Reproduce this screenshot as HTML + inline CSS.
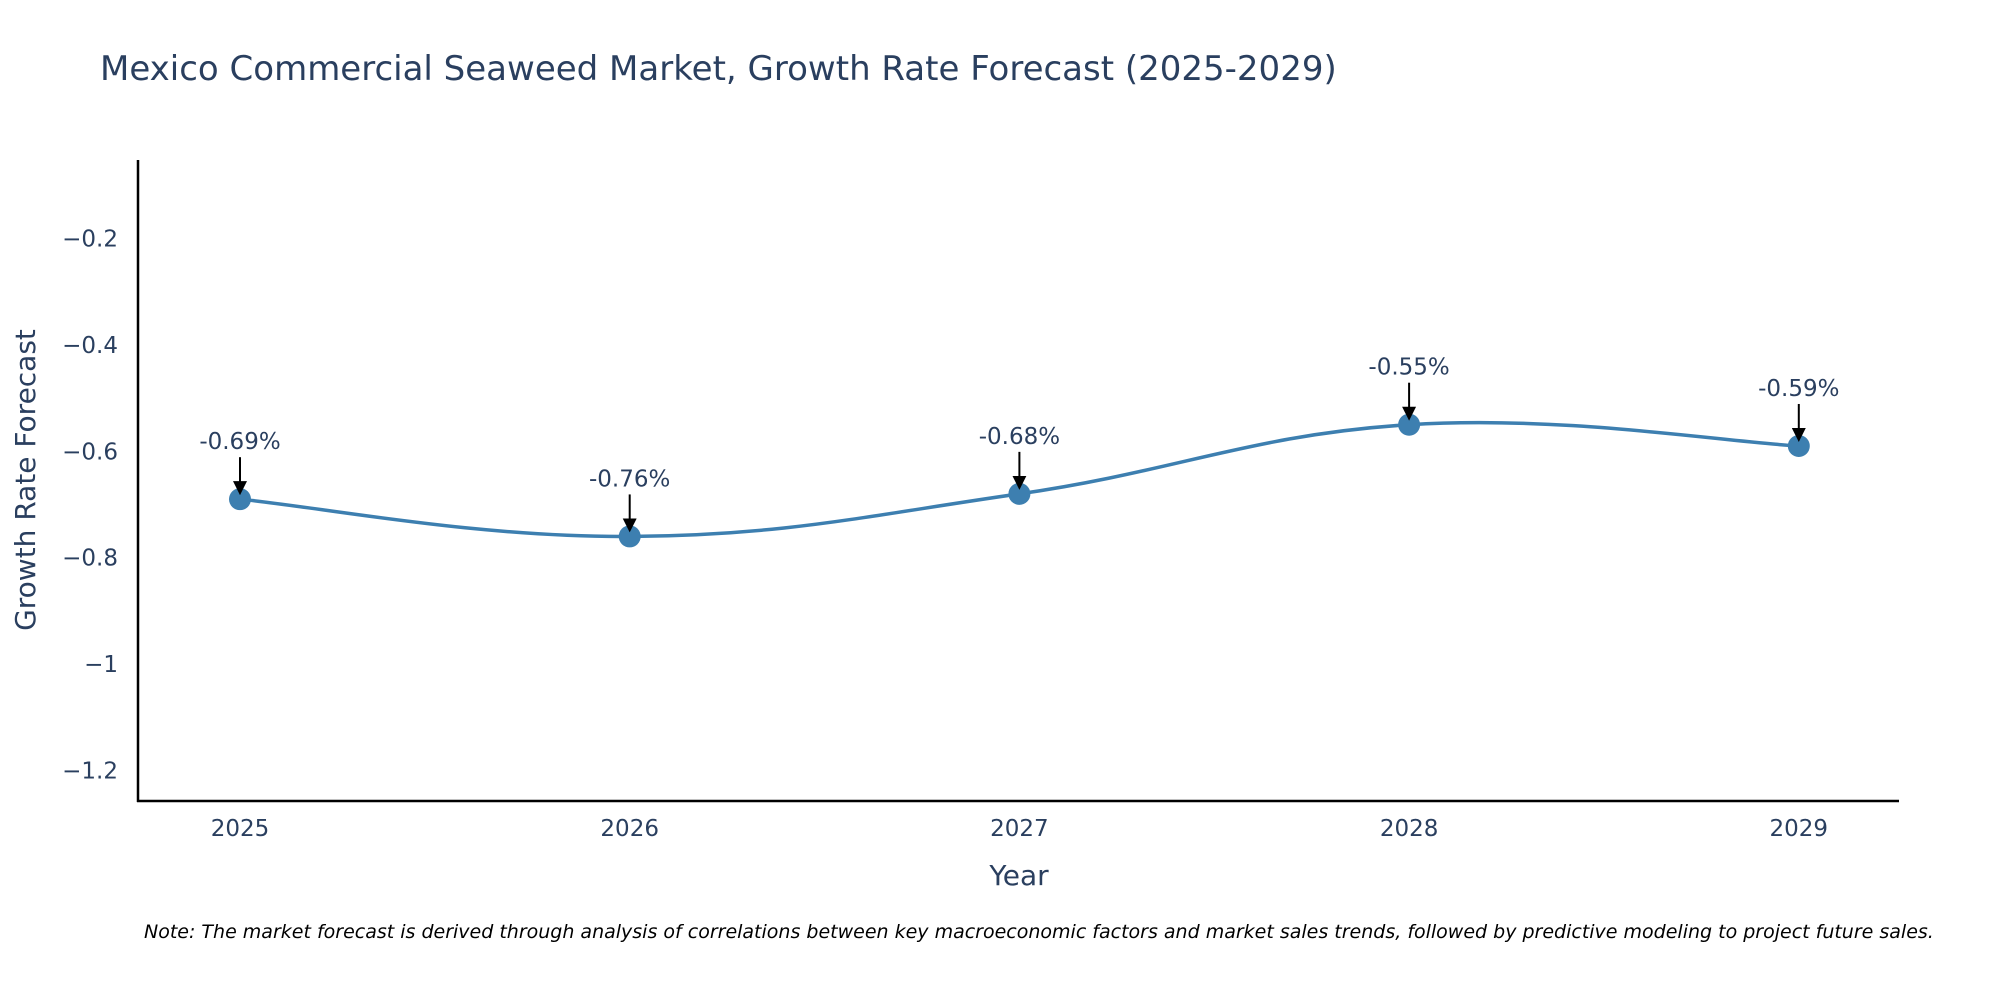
<!DOCTYPE html>
<html><head><meta charset="utf-8">
<style>
body{margin:0;background:#fff;width:2000px;height:1000px;overflow:hidden;font-family:"DejaVu Sans","Liberation Sans",sans-serif;}
svg text{font-family:"DejaVu Sans","Liberation Sans",sans-serif;}
</style></head>
<body>
<svg id="chart" width="2000" height="1000" xmlns="http://www.w3.org/2000/svg">
<text x="100" y="80" font-size="34" fill="#2a3f5f">Mexico Commercial Seaweed Market, Growth Rate Forecast (2025-2029)</text>
<g id="yticks"></g><g id="xticks"></g>
<line x1="138" y1="160" x2="138" y2="802" stroke="#000" stroke-width="2.5"/>
<line x1="137" y1="801" x2="1899" y2="801" stroke="#000" stroke-width="2.5"/>
<text transform="translate(35,480) rotate(-90)" text-anchor="middle" font-size="28" fill="#2a3f5f">Growth Rate Forecast</text>
<text x="1019" y="885" text-anchor="middle" font-size="28" fill="#2a3f5f">Year</text>
<g id="series"></g>
<text x="144" y="938" font-size="19" font-style="italic" fill="#000">Note: The market forecast is derived through analysis of correlations between key macroeconomic factors and market sales trends, followed by predictive modeling to project future sales.</text>
<defs><marker id="ah" markerWidth="14" markerHeight="14" refX="10" refY="7" orient="auto" markerUnits="userSpaceOnUse"><path d="M0,0 L14,7 L0,14 z" fill="#000"/></marker></defs>
</svg>
<script>
const years=[2025,2026,2027,2028,2029];
const values=[-0.69,-0.76,-0.68,-0.55,-0.59];
const labels=["-0.69%","-0.76%","-0.68%","-0.55%","-0.59%"];
const yTickVals=[-0.2,-0.4,-0.6,-0.8,-1,-1.2];
const yTickLabels=["\u22120.2","\u22120.4","\u22120.6","\u22120.8","\u22121","\u22121.2"];
const NS="http://www.w3.org/2000/svg";
function xs(y){return 240+(y-2025)*389.7;}
function ys(v){return 238.5+(-0.2-v)/0.2*106.4;}
function mk(t,a,p){const e=document.createElementNS(NS,t);for(const k in a)e.setAttribute(k,a[k]);p.appendChild(e);return e;}
const yt=document.getElementById('yticks');
yTickVals.forEach((v,i)=>{const t=mk('text',{x:118,y:ys(v)+8,'text-anchor':'end','font-size':23,fill:'#2a3f5f'},yt);


t.textContent=yTickLabels[i];});
const xt=document.getElementById('xticks');
years.forEach(y=>{const t=mk('text',{x:xs(y),y:836,'text-anchor':'middle','font-size':23,fill:'#2a3f5f'},xt);


t.textContent=y;});
const s=document.getElementById('series');
const P=years.map((y,i)=>[xs(y),ys(values[i])]);
let d="M"+P[0][0]+","+P[0][1];const k=0.2;
for(let i=0;i<P.length-1;i++){const p0=P[Math.max(0,i-1)],p1=P[i],p2=P[i+1],p3=P[Math.min(P.length-1,i+2)];
d+=" C"+(p1[0]+(p2[0]-p0[0])*k)+","+(p1[1]+(p2[1]-p0[1])*k)+" "+(p2[0]-(p3[0]-p1[0])*k)+","+(p2[1]-(p3[1]-p1[1])*k)+" "+p2[0]+","+p2[1];}
const line=mk('path',{d:d,fill:'none',stroke:'#3d7fb0','stroke-width':3.5},s);


P.forEach((p,i)=>{const c=mk('circle',{cx:p[0],cy:p[1],r:11,fill:'#3d7fb0'},s);


const a=mk('line',{x1:p[0],y1:p[1]-42,x2:p[0],y2:p[1]-8,stroke:'#000','stroke-width':2,'marker-end':'url(#ah)'},s);


const t=mk('text',{x:p[0],y:p[1]-50,'text-anchor':'middle','font-size':23,fill:'#2a3f5f'},s);


t.textContent=labels[i];});
</script>
</body></html>
